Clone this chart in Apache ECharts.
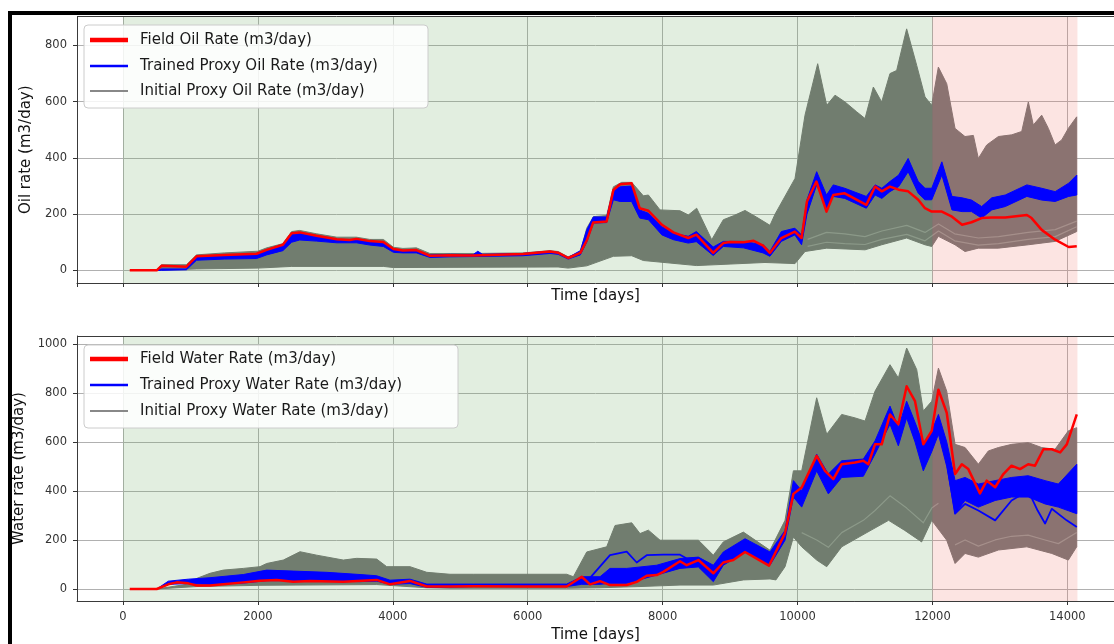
<!DOCTYPE html>
<html>
<head>
<meta charset="utf-8">
<script src="https://cdn.jsdelivr.net/npm/echarts@6/dist/echarts.min.js"></script>
<style>
  html, body { margin: 0; padding: 0; background: #ffffff; }
  #chart { width: 1114px; height: 644px; }
</style>
</head>
<body>
<div id="chart"></div>
<script>
// ---- Time periods (days) ----
const historyPeriod = [0, 12000];
const forecastPeriod = [12000, 14150];

// ---- Oil rate (m3/day): [day, value] ----
const oilField = [[100,0],[500,0],[570,16],[940,13],[1090,50],[1500,55],[1980,59],[2130,73],[2370,91],[2500,132],[2620,135],[2870,123],[3170,111],[3360,108],[3460,112],[3660,104],[3860,101],[4010,76],[4150,71],[4350,72],[4550,52],[4850,54],[5190,53],[5930,58],[6330,67],[6450,63],[6600,44],[6780,62],[6880,109],[6970,170],[7170,174],[7270,286],[7370,306],[7540,310],[7660,221],[7790,212],[7990,162],[8160,135],[8380,115],[8500,127],[8750,62],[8900,97],[9000,101],[9200,100],[9350,105],[9490,88],[9590,62],[9760,115],[9960,138],[10060,115],[10140,245],[10280,316],[10430,209],[10530,268],[10700,274],[11020,233],[11150,298],[11250,281],[11370,298],[11500,287],[11640,281],[11790,251],[11890,221],[11990,209],[12140,209],[12290,191],[12440,162],[12580,171],[12730,186],[12880,188],[13080,188],[13400,197],[13470,186],[13620,144],[13820,109],[14020,83],[14140,86]];

const oilTrainedHigh = [[500,0],[570,5],[940,5],[1090,48],[1500,53],[1980,57],[2130,70],[2370,88],[2500,128],[2620,132],[2870,120],[3170,108],[3460,110],[3660,103],[3860,100],[4010,75],[4150,70],[4350,70],[4550,55],[4850,57],[5190,56],[5260,68],[5330,57],[5930,60],[6330,68],[6450,64],[6600,46],[6780,70],[6875,144],[6973,190],[7170,190],[7270,286],[7370,297],[7540,300],[7660,215],[7790,203],[7990,155],[8160,132],[8380,121],[8500,138],[8750,83],[8900,103],[9200,103],[9490,91],[9590,67],[9760,138],[9960,150],[10060,126],[10140,251],[10284,351],[10430,268],[10530,304],[10700,292],[11020,263],[11150,304],[11250,292],[11370,316],[11500,339],[11640,398],[11790,316],[11890,292],[11990,292],[12140,386],[12290,263],[12440,258],[12580,250],[12730,227],[12880,258],[13080,268],[13400,304],[13620,292],[13820,280],[14020,310],[14140,339]];
const oilTrainedLow = [[500,0],[570,0],[940,2],[1090,36],[1500,40],[1980,42],[2130,55],[2370,70],[2500,100],[2620,108],[2870,104],[3170,98],[3460,98],[3660,90],[3860,85],[4010,64],[4150,62],[4350,62],[4550,46],[4850,48],[5190,49],[5930,52],[6330,60],[6450,57],[6600,40],[6780,55],[6875,100],[6973,168],[7170,170],[7270,251],[7370,245],[7540,245],[7660,186],[7790,180],[7990,126],[8160,109],[8380,97],[8500,102],[8750,53],[8900,85],[9200,80],[9490,62],[9590,50],[9760,103],[9960,126],[10060,91],[10140,200],[10284,304],[10430,221],[10530,263],[10700,256],[11020,221],[11150,268],[11250,256],[11370,280],[11500,298],[11640,351],[11790,274],[11890,251],[11990,251],[12140,339],[12290,215],[12440,209],[12580,209],[12730,186],[12880,215],[13080,227],[13400,263],[13620,250],[13820,245],[14020,263],[14140,268]];

const oilInitialHigh = [[500,0],[570,20],[940,20],[1090,55],[1500,62],[2000,68],[2130,80],[2370,95],[2500,138],[2620,142],[2870,130],[3170,118],[3460,118],[3660,110],[3860,110],[4010,82],[4150,78],[4350,80],[4550,60],[4850,60],[5200,60],[5930,62],[6330,70],[6450,67],[6600,48],[6780,66],[6875,150],[6973,191],[7171,195],[7270,297],[7393,313],[7542,313],[7714,265],[7789,268],[7962,215],[8258,212],[8382,197],[8505,221],[8728,109],[8900,180],[9048,194],[9222,213],[9395,189],[9592,160],[9667,200],[9963,327],[10111,552],[10299,735],[10433,587],[10556,623],[10704,599],[10877,564],[11001,540],[11124,652],[11248,599],[11371,700],[11470,711],[11618,859],[11767,729],[11890,617],[11990,587],[12088,723],[12212,664],[12335,505],[12483,476],[12607,480],[12681,398],[12805,446],[12978,476],[13176,482],[13324,494],[13422,599],[13496,517],[13620,552],[13719,505],[13818,446],[13917,464],[14015,505],[14139,546]];
const oilInitialLow = [[500,0],[1090,5],[2000,8],[2500,14],[3860,14],[4010,10],[6450,12],[6600,8],[6875,16],[7270,50],[7542,52],[7714,35],[8505,17],[9518,28],[9963,24],[10111,67],[10433,79],[11001,73],[11248,91],[11618,115],[11890,91],[11990,85],[12088,121],[12335,91],[12483,67],[12681,79],[12978,79],[13422,91],[13818,103],[14139,138]];
// Pale gaps between neighbouring initial-proxy members
const oilInitialGapA = [[10150,110],[10430,135],[10700,130],[11000,120],[11250,140],[11620,160],[11890,135],[12090,165],[12330,130],[12680,115],[12980,120],[13420,135],[13820,145],[14139,175]];
const oilInitialGapB = [[10150,85],[10430,100],[10700,95],[11000,92],[11250,110],[11620,128],[11890,105],[12090,140],[12330,105],[12680,90],[12980,95],[13420,110],[13820,120],[14139,155]];

// ---- Water rate (m3/day): [day, value] ----
const waterField = [[100,0],[500,0],[672,19],[796,27],[968,23],[1092,14],[1290,14],[1487,19],[1784,27],[2031,34],[2278,37],[2525,30],[2772,33],[3266,30],[3761,37],[3958,19],[4255,33],[4503,10],[4848,10],[5194,11],[5935,10],[6578,10],[6801,50],[6924,19],[7072,32],[7220,16],[7468,16],[7616,29],[7764,54],[7913,57],[8011,70],[8258,113],[8357,97],[8530,118],[8752,64],[8900,108],[9048,118],[9222,151],[9395,124],[9577,95],[9815,228],[9939,388],[10062,414],[10284,543],[10408,482],[10531,448],[10655,509],[10852,516],[10976,523],[11050,509],[11149,590],[11248,590],[11371,712],[11495,672],[11618,827],[11742,766],[11865,590],[11990,645],[12089,813],[12212,719],[12336,469],[12436,509],[12532,489],[12705,390],[12805,442],[12930,415],[13052,469],[13173,503],[13299,489],[13420,509],[13521,503],[13646,570],[13769,570],[13893,557],[13992,590],[14140,712]];

const waterTrainedHigh = [[500,0],[672,32],[968,40],[1290,46],[1784,59],[2130,77],[2525,73],[3020,68],[3514,59],[3761,54],[3958,36],[4255,40],[4503,20],[4848,20],[5194,20],[6578,20],[6801,50],[7072,50],[7220,84],[7468,84],[7913,97],[8258,124],[8530,130],[8752,97],[8900,151],[9222,205],[9592,151],[9815,239],[9939,442],[10062,401],[10284,550],[10457,469],[10655,523],[10976,530],[11149,604],[11371,746],[11495,658],[11618,766],[11742,680],[11865,590],[11990,645],[12089,712],[12212,600],[12336,442],[12484,455],[12681,428],[12930,442],[13173,455],[13420,462],[13670,442],[13867,428],[14140,509]];
const waterTrainedLow = [[500,0],[672,19],[968,22],[1290,19],[1784,24],[2130,34],[2525,34],[3020,34],[3514,30],[3761,32],[3958,19],[4255,22],[4503,7],[4848,8],[5194,10],[6578,10],[6801,19],[7072,19],[7220,23],[7468,23],[7913,57],[8258,84],[8530,90],[8752,30],[8900,97],[9222,151],[9592,97],[9815,199],[9939,375],[10062,334],[10284,482],[10457,388],[10655,455],[10976,460],[11149,550],[11371,672],[11495,584],[11618,698],[11742,600],[11865,482],[11990,560],[12089,631],[12212,500],[12336,307],[12484,361],[12681,334],[12930,361],[13173,375],[13420,375],[13670,347],[13867,334],[14140,307]];
const waterTrainedUpper = [[6924,45],[7220,138],[7468,152],[7616,108],[7764,138],[8011,140],[8258,140],[8357,124],[8530,125]];
const waterTrainedLower = [[12212,520],[12336,307],[12484,347],[12681,320],[12930,280],[13173,361],[13420,401],[13560,320],[13670,267],[13769,327],[13990,280],[14140,253]];

const waterInitialHigh = [[500,0],[968,20],[1092,43],[1290,64],[1487,77],[1784,84],[2031,91],[2130,104],[2377,118],[2624,152],[2871,138],[3266,118],[3464,125],[3761,122],[3910,91],[4255,91],[4503,68],[4848,60],[5194,60],[6578,60],[6677,50],[6875,151],[7171,172],[7295,259],[7542,270],[7665,226],[7789,240],[7962,199],[8308,199],[8530,199],[8752,138],[8900,192],[9197,232],[9592,158],[9815,280],[9939,482],[10062,482],[10284,780],[10433,631],[10655,712],[10852,698],[11001,685],[11149,807],[11371,915],[11495,861],[11618,983],[11767,895],[11865,726],[11990,766],[12089,901],[12212,807],[12336,590],[12484,577],[12681,509],[12829,563],[12978,577],[13176,590],[13422,597],[13620,577],[13818,570],[14015,645],[14139,658]];
const waterInitialLow = [[500,0],[1092,10],[2031,15],[3761,18],[4503,5],[4848,3],[6578,3],[7072,5],[7665,10],[8258,16],[8752,16],[9197,37],[9592,41],[9680,37],[9815,91],[9939,212],[10062,172],[10284,118],[10433,91],[10655,172],[11001,226],[11350,280],[11590,239],[11840,192],[11990,280],[12212,199],[12336,104],[12484,145],[12681,130],[12978,159],[13400,172],[13770,145],[14015,118],[14139,172]];
const waterInitialGapA = [[12336,180],[12484,200],[12681,175],[12930,200],[13173,215],[13420,220],[13670,200],[13867,185],[14139,230]];
const waterInitialGapB = [[10062,230],[10284,200],[10457,170],[10655,230],[10976,280],[11149,320],[11371,380],[11618,330],[11865,270],[11990,330],[12089,350]];

// ---- Labels ----
const oilNames = ['Field Oil Rate (m3/day)', 'Trained Proxy Oil Rate (m3/day)', 'Initial Proxy Oil Rate (m3/day)'];
const waterNames = ['Field Water Rate (m3/day)', 'Trained Proxy Water Rate (m3/day)', 'Initial Proxy Water Rate (m3/day)'];
const yTitles = ['Oil rate (m3/day)', 'Water rate (m3/day)'];
const xTitle = 'Time [days]';

// ---- Styling ----
const FONT = 'DejaVu Sans';
const RED = '#ff0000', BLUE = '#0000ff', GRAY = '#727272', GAP = 'rgba(170,174,168,0.6)';
const SPINE = '#3a3a3a';
const spanColors = ['rgba(110,168,100,0.2)', 'rgba(242,120,110,0.2)'];

const chart = echarts.init(document.getElementById('chart'), null, { renderer: 'canvas' });

// Envelope of an ensemble, filled between its upper and lower bounds
function bandSeries(name, gi, upper, lower, color, z) {
  return {
    type: 'custom', name, xAxisIndex: gi, yAxisIndex: gi, z, silent: true,
    data: [[upper[0][0], upper[0][1]]],
    renderItem(params, api) {
      const pts = upper.map(p => api.coord(p))
        .concat(lower.slice().reverse().map(p => api.coord(p)));
      return { type: 'polygon', shape: { points: pts },
        style: { fill: color, stroke: color, lineWidth: 1, lineJoin: 'round' } };
    }
  };
}

// Shaded history / forecast periods, laid over the ensembles as a tint
function spanSeries(gi) {
  const spans = [historyPeriod, forecastPeriod];
  return {
    type: 'custom', xAxisIndex: gi, yAxisIndex: gi, z: 3, silent: true,
    data: spans.map((s, i) => [s[0], s[1], i]),
    encode: { x: [0, 1], y: 2 },
    renderItem(params, api) {
      const x0 = api.coord([api.value(0), 0])[0];
      const x1 = api.coord([api.value(1), 0])[0];
      const cs = params.coordSys;
      return { type: 'rect', shape: { x: x0, y: cs.y, width: x1 - x0, height: cs.height },
        style: { fill: spanColors[api.value(2)] } };
    }
  };
}

function lineSeries(name, gi, data, color, width, z) {
  return { type: 'line', name, xAxisIndex: gi, yAxisIndex: gi, data, showSymbol: false,
    symbol: 'none', silent: true, z, lineStyle: { color, width, join: 'round' }, animation: false };
}

// The plotting boxes run off the right edge of the page
const grids = [
  { left: 77, top: 16.5, right: 0, height: 266.5 },
  { left: 77, top: 336, right: 0, height: 266.7 }
];

const plainNumber = v => String(v);

function xAxis(gi, showLabels, nameGap) {
  return {
    type: 'value', gridIndex: gi, min: -682, max: 14692, minInterval: 2000, maxInterval: 2000,
    axisLine: { show: true, onZero: false, lineStyle: { color: SPINE, width: 1 } },
    axisTick: { show: true, length: 4, lineStyle: { color: '#333' } },
    axisLabel: { show: showLabels, showMinLabel: false, showMaxLabel: false, fontSize: 11.5,
      fontFamily: FONT, color: '#333', margin: 10, formatter: plainNumber },
    splitLine: { show: true, showMinLine: false, showMaxLine: false,
      lineStyle: { color: '#b0b0b0', width: 1 } },
    name: xTitle, nameLocation: 'middle', nameGap,
    nameTextStyle: { fontSize: 15, fontFamily: FONT, color: '#111' }
  };
}

function yAxis(gi, min, max, step, title) {
  return {
    type: 'value', gridIndex: gi, min, max, minInterval: step, maxInterval: step,
    axisLine: { show: true, onZero: false, lineStyle: { color: SPINE, width: 1 } },
    axisTick: { show: true, length: 4, lineStyle: { color: '#333' } },
    axisLabel: { showMinLabel: false, showMaxLabel: false, fontSize: 11.5,
      fontFamily: FONT, color: '#333', margin: 10, formatter: plainNumber },
    splitLine: { show: true, showMinLine: false, showMaxLine: false,
      lineStyle: { color: '#b0b0b0', width: 1 } },
    name: title, nameLocation: 'middle', nameGap: 43,
    nameTextStyle: { fontSize: 15, fontFamily: FONT, color: '#111' }
  };
}

function legendRow(name, color, thick, top) {
  return {
    show: true, left: 90, top, padding: 0, z: 20, selectedMode: false,
    itemWidth: 38, itemHeight: thick, icon: 'rect',
    data: [{ name, itemStyle: { color } }],
    textStyle: { fontSize: 15, fontFamily: FONT, color: '#1a1a1a', lineHeight: 18, padding: [0, 0, 0, 7] }
  };
}

const legendRowsTop = [40, 66, 91];
const legendRowsBottom = [359, 385, 411];
const legendColors = [RED, BLUE, '#888888'];
const legendThick = [4.5, 2.5, 2];

const legends = [];
[oilNames, waterNames].forEach((names, p) => {
  const rows = p === 0 ? legendRowsTop : legendRowsBottom;
  names.forEach((n, i) => legends.push(legendRow(n, legendColors[i], legendThick[i], rows[i] - 9)));
});

const option = {
  animation: false,
  backgroundColor: '#ffffff',
  grid: grids,
  xAxis: [xAxis(0, false, 6), xAxis(1, true, 27)],
  yAxis: [yAxis(0, -45, 903, 200, yTitles[0]), yAxis(1, -49, 1032, 200, yTitles[1])],
  legend: legends,
  graphic: [
    // top spines of both boxes
    { type: 'line', z: 8, shape: { x1: 77, y1: 16.5, x2: 1114, y2: 16.5 }, style: { stroke: SPINE, lineWidth: 1 } },
    { type: 'line', z: 8, shape: { x1: 77, y1: 336.5, x2: 1114, y2: 336.5 }, style: { stroke: SPINE, lineWidth: 1 } },
    // legend frames
    { type: 'rect', z: 10, shape: { x: 84, y: 25, width: 344, height: 83, r: 4 },
      style: { fill: 'rgba(255,255,255,0.85)', stroke: '#cccccc', lineWidth: 1 } },
    { type: 'rect', z: 10, shape: { x: 84, y: 345, width: 374, height: 83, r: 4 },
      style: { fill: 'rgba(255,255,255,0.85)', stroke: '#cccccc', lineWidth: 1 } },
    // black page frame
    { type: 'rect', z: 30, shape: { x: 8, y: 11, width: 1106, height: 4 }, style: { fill: '#000' } },
    { type: 'rect', z: 30, shape: { x: 8, y: 11, width: 4, height: 633 }, style: { fill: '#000' } }
  ],
  series: [
    // Oil panel
    bandSeries(oilNames[2], 0, oilInitialHigh, oilInitialLow, GRAY, 2),
    lineSeries(oilNames[2], 0, oilInitialGapA, GAP, 1.2, 2),
    lineSeries(oilNames[2], 0, oilInitialGapB, GAP, 1.2, 2),
    spanSeries(0),
    bandSeries(oilNames[1], 0, oilTrainedHigh, oilTrainedLow, BLUE, 4),
    lineSeries(oilNames[0], 0, oilField, RED, 2.5, 6),
    // Water panel
    bandSeries(waterNames[2], 1, waterInitialHigh, waterInitialLow, GRAY, 2),
    lineSeries(waterNames[2], 1, waterInitialGapA, GAP, 1.2, 2),
    lineSeries(waterNames[2], 1, waterInitialGapB, GAP, 1.2, 2),
    spanSeries(1),
    bandSeries(waterNames[1], 1, waterTrainedHigh, waterTrainedLow, BLUE, 4),
    lineSeries(waterNames[1], 1, waterTrainedUpper, BLUE, 1.8, 4),
    lineSeries(waterNames[1], 1, waterTrainedLower, BLUE, 1.8, 4),
    lineSeries(waterNames[0], 1, waterField, RED, 2.5, 6)
  ]
};

chart.setOption(option);
</script>
</body>
</html>
